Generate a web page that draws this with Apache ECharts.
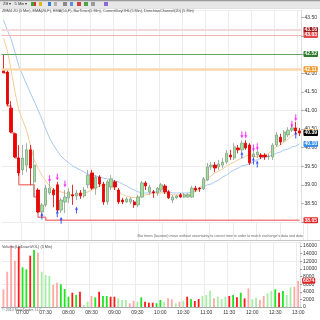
<!DOCTYPE html>
<html><head><meta charset="utf-8">
<script src="https://cdn.jsdelivr.net/npm/echarts@6/dist/echarts.min.js"></script>
<style>html,body{margin:0;padding:0;background:#fff}#c{width:320px;height:320px}</style>
</head><body><div id="c"></div>
<script>
const times = ['06:35','06:40','06:45','06:50','06:55','07:00','07:05','07:10','07:15','07:20','07:25','07:30','07:35','07:40','07:45','07:50','07:55','08:00','08:05','08:10','08:15','08:20','08:25','08:30','08:35','08:40','08:45','08:50','08:55','09:00','09:05','09:10','09:15','09:20','09:25','09:30','09:35','09:40','09:45','09:50','09:55','10:00','10:05','10:10','10:15','10:20','10:25','10:30','10:35','10:40','10:45','10:50','10:55','11:00','11:05','11:10','11:15','11:20','11:25','11:30','11:35','11:40','11:45','11:50','11:55','12:00','12:05','12:10','12:15','12:20','12:25','12:30','12:35','12:40','12:45','12:50','12:55','13:00'];
// [open, close, low, high]
const candles = [
[42.11,42.01,42.01,42.49],[42.03,41.17,41.12,42.09],[41.06,40.42,40.39,41.25],[40.37,39.75,39.72,40.39],
[39.72,39.32,39.24,40.07],[39.40,39.72,39.26,40.07],[39.53,39.94,39.34,40.12],[39.94,39.45,39.00,40.07],
[39.08,39.53,38.67,39.94],[38.86,38.27,38.24,38.91],[38.27,38.46,38.13,38.51],[38.46,38.91,38.40,39.00],
[38.78,38.91,38.73,39.08],[38.86,38.73,38.40,38.91],[39.00,38.32,38.27,39.08],[38.32,38.59,38.24,38.65],
[38.54,38.67,38.24,38.86],[38.65,38.81,38.51,38.91],[38.73,38.70,38.46,39.00],[38.70,38.78,38.59,38.86],
[38.78,38.70,38.62,38.86],[38.70,38.86,38.65,38.94],[39.00,39.26,38.91,39.40],[39.32,38.91,38.86,39.40],
[38.91,39.21,38.73,39.26],[39.21,39.02,38.94,39.26],[39.02,38.54,38.46,39.08],[38.54,39.08,38.46,39.13],
[38.94,39.16,38.86,39.26],[39.08,38.94,38.86,39.13],[38.86,38.54,38.48,38.91],[38.59,38.54,38.48,38.65],
[38.54,38.62,38.51,38.67],[38.54,38.62,38.48,38.67],[38.54,38.46,38.38,38.59],[38.46,38.67,38.40,38.73],
[38.67,39.05,38.65,39.10],[39.05,38.97,38.86,39.10],[38.81,38.94,38.73,39.00],[38.81,38.78,38.65,38.86],
[38.78,38.91,38.70,38.94],[38.86,39.00,38.81,39.05],[38.97,38.81,38.75,39.02],[38.81,38.65,38.62,38.86],
[38.59,38.67,38.51,38.73],[38.65,38.70,38.62,38.73],[38.73,38.67,38.65,38.78],[38.67,38.73,38.65,38.78],
[38.67,38.73,38.65,38.78],[38.67,38.91,38.65,38.97],[38.91,38.86,38.81,38.97],[38.91,38.89,38.81,38.94],
[38.89,39.16,38.86,39.21],[39.13,39.48,39.10,39.59],[39.48,39.53,39.40,39.61],[39.53,39.45,39.34,39.61],
[39.48,39.56,39.40,39.67],[39.53,39.61,39.45,39.72],[39.61,39.85,39.56,39.94],[39.80,39.75,39.67,39.94],
[39.72,40.02,39.67,40.12],[39.99,39.94,39.85,40.07],[39.94,40.12,39.88,40.20],[40.12,39.99,39.94,40.20],
[40.07,39.59,39.53,40.12],[39.75,39.83,39.67,39.94],[39.80,39.88,39.72,39.96],[39.80,39.75,39.69,39.85],
[39.80,39.75,39.67,39.85],[39.75,39.77,39.67,39.83],[39.75,40.07,39.67,40.12],[40.07,40.34,40.02,40.42],
[40.28,40.15,40.07,40.37],[40.20,40.42,40.15,40.47],[40.34,40.47,40.28,40.55],[40.47,40.53,40.42,40.63],
[40.53,40.45,40.37,40.69],[40.45,40.39,40.31,40.53]
];
const emaSlow = [43.43,43.16,42.92,42.57,42.19,41.95,41.71,41.47,41.25,41.01,40.77,40.50,40.26,40.07,39.91,39.77,39.67,39.59,39.51,39.45,39.40,39.34,39.29,39.26,39.24,39.21,39.18,39.16,39.13,39.10,39.08,39.02,38.97,38.91,38.86,38.81,38.78,38.78,38.78,38.81,38.81,38.81,38.81,38.81,38.78,38.78,38.78,38.78,38.78,38.81,38.83,38.89,38.94,39.00,39.02,39.08,39.13,39.21,39.26,39.34,39.40,39.45,39.51,39.53,39.56,39.61,39.67,39.72,39.75,39.77,39.80,39.85,39.88,39.94,39.96,40.02,40.04,40.10];
const emaFast = [42.95,42.62,42.09,41.50,41.01,40.74,40.47,40.07,39.67,39.45,39.26,39.10,38.97,38.89,38.83,38.81,38.78,38.75,38.73,38.73,38.75,38.78,38.81,38.86,38.91,38.97,39.00,39.00,38.94,38.89,38.81,38.73,38.70,38.67,38.65,38.67,38.70,38.73,38.75,38.78,38.78,38.78,38.78,38.75,38.73,38.73,38.73,38.73,38.73,38.75,38.83,38.91,39.02,39.16,39.24,39.32,39.37,39.42,39.51,39.56,39.61,39.67,39.72,39.77,39.80,39.77,39.75,39.77,39.80,39.85,39.94,40.02,40.07,40.15,40.23,40.31,40.37,40.42];
const lowestLow = [42.01,41.12,40.39,39.72,39.00,39.00,39.00,39.00,38.67,38.13,38.13,38.05,38.05,38.05,38.05,38.05,38.05,38.05,38.05,38.05,38.05,38.05,38.05,38.05,38.05,38.05,38.05,38.05,38.05,38.05,38.05,38.05,38.05,38.05,38.05,38.05,38.05,38.05,38.05,38.05,38.05,38.05,38.05,38.05,38.05,38.05,38.05,38.05,38.05,38.05,38.05,38.05,38.05,38.05,38.05,38.05,38.05,38.05,38.05,38.05,38.05,38.05,38.05,38.05,38.05,38.05,38.05,38.05,38.05,38.05,38.05,38.05,38.05,38.05,38.05,38.05,38.05,38.05];
const sellSignals = [[12,39.16],[14,39.21],[16,39.02],[62,40.34],[63,40.34],[65,39.99],[66,40.02],[75,40.63],[76,40.80]];
const buySignals = [[10,38.16],[14,38.22],[15,38.05],[19,38.32],[62,39.80],[65,39.64],[66,39.56],[76,40.34]];
const volumes = [4640,9260,16260,12140,15820,10410,9890,13460,14950,14240,
9260,8390,8130,5770,6370,5950,4720,2700,3750,3150,
4010,520,1390,2890,2540,4010,2890,2890,2700,2700,
2280,1840,1840,970,1650,1390,2540,1390,1130,1130,
970,1840,1390,2280,2020,970,1390,1650,2700,2100,
1570,2100,2890,3150,4280,2280,2700,2100,2700,2890,
3150,2540,3750,2280,4900,2020,2440,1840,2890,3590,
4200,4640,3750,4200,3150,5170,5320,6874];
const volumeKind = ['r','r','r','r','R','G','G','R','G','r',
'g','g','g','r','r','G','G','G','R','G',
'R','g','g','r','G','R','G','G','R','R',
'g','g','g','r','r','g','G','R','R','R',
'G','G','g','r','r','g','r','g','R','G',
'R','R','g','g','g','r','g','g','g','R',
'G','R','G','R','r','g','g','r','r','g',
'g','G','R','G','g','g','r','r'];
const levelLines = [43.16, 43.03, 42.52, 42.11];
const lastPrice = 40.39;

const levelStyles = [
  {line:'#f1d9d9', w:2, bg:'#9b1b1b'},
  {line:'#f6b3b3', w:1.2, bg:'#e34b4b'},
  {line:'#5fa55f', w:1.2, bg:'#2f7a2f'},
  {line:'#fcd9ac', w:2.5, bg:'#ef9a2a'}
];
const volColors = {R:'#ff1a1a', r:'#ffa8a8', G:'#1fe41f', g:'#a6eda6'};
const FONT = 'Liberation Sans';
const isHalfHour = (i, v) => /:(00|30)$/.test(v);
function boxLabel(bg, txt){
  return {show:true, position:'end', distance:2, formatter: txt, backgroundColor:bg, color:'#fff',
    fontSize:5, fontWeight:'bold', fontFamily:FONT, padding:[1,1,0,1], borderRadius:1};
}
const mlData = levelLines.map((v,k)=>({yAxis:v, lineStyle:{color:levelStyles[k].line, width:levelStyles[k].w, type:'solid'},
  label: boxLabel(levelStyles[k].bg, v.toFixed(2))}));
mlData.push({yAxis: emaFast[emaFast.length-1], lineStyle:{color:'transparent', width:0}, label: boxLabel('#f0a040', emaFast[emaFast.length-1].toFixed(2))});
mlData.push({yAxis: lastPrice, lineStyle:{color:'transparent', width:0}, label: boxLabel('#000', lastPrice.toFixed(2))});
mlData.push({yAxis: emaSlow[emaSlow.length-1], lineStyle:{color:'transparent', width:0}, label: boxLabel('#3b8fe6', emaSlow[emaSlow.length-1].toFixed(2))});
mlData.push({yAxis: lowestLow[lowestLow.length-1], lineStyle:{color:'transparent', width:0}, label: boxLabel('#e52424', lowestLow[lowestLow.length-1].toFixed(2))});

const L = 1.5, R = 12.7;
const splitX = {show:true, interval:(i,v)=>isHalfHour(i,v), lineStyle:{color:'#ececec', width:1}};
const option = {
  animation:false,
  backgroundColor:'#fff',
  textStyle:{fontFamily:FONT},
  grid:[
    {left:L, right:R, top:10, bottom:98},
    {left:L, right:R, top:222, bottom:80},
    {left:L, right:R, top:242.2, bottom:13}
  ],
  xAxis:[
    {type:'category', gridIndex:0, data:times, axisLabel:{show:false}, axisTick:{show:false}, axisLine:{show:false}, splitLine:splitX},
    {type:'category', gridIndex:1, data:times, axisLabel:{show:false}, axisTick:{show:false}, axisLine:{show:false}, splitLine:splitX},
    {type:'category', gridIndex:2, data:times,
      axisLabel:{interval:isHalfHour, fontSize:5, color:'#333', margin:3, fontFamily:FONT},
      axisTick:{interval:isHalfHour, length:2, lineStyle:{color:'#999'}},
      axisLine:{lineStyle:{color:'#aaa', width:1}}, splitLine:splitX}
  ],
  yAxis:[
    {type:'value', gridIndex:0, position:'right', min:38, max:43.7, interval:0.5, scale:true,
      axisLabel:{fontSize:5, color:'#333', margin:3, showMaxLabel:false, formatter:v=>v.toFixed(2), fontFamily:FONT},
      axisTick:{show:true, length:2, lineStyle:{color:'#999'}}, axisLine:{show:true, lineStyle:{color:'#ddd'}}, splitLine:{show:false}},
    {type:'value', gridIndex:0, position:'right', min:38, max:43.7, interval:1.5, show:true,
      axisLabel:{show:false}, axisTick:{show:false}, axisLine:{show:false}, splitLine:{show:true, lineStyle:{color:'#ececec'}}},
    {type:'value', gridIndex:1, show:false},
    {type:'value', gridIndex:2, position:'right', min:0, max:17000, interval:2000,
      axisLabel:{fontSize:5, color:'#333', margin:3, showMaxLabel:false, formatter:v=>String(v), fontFamily:FONT},
      axisTick:{show:true, length:2, lineStyle:{color:'#999'}}, axisLine:{show:true, lineStyle:{color:'#ddd'}}, splitLine:{show:false}},
    {type:'value', gridIndex:2, position:'right', min:0, max:17000, interval:6000,
      axisLabel:{show:false}, axisTick:{show:false}, axisLine:{show:false}, splitLine:{show:true, lineStyle:{color:'#ececec'}}}
  ],
  series:[
    {type:'line', xAxisIndex:0, yAxisIndex:0, data:emaSlow, symbol:'none', lineStyle:{color:'#a9c9f2', width:1}, z:2},
    {type:'line', xAxisIndex:0, yAxisIndex:0, data:emaFast, symbol:'none', lineStyle:{color:'#fbcb96', width:1}, z:2},
    {type:'line', xAxisIndex:0, yAxisIndex:0, data:lowestLow, step:'end', symbol:'none', lineStyle:{color:'#f28484', width:1.5}, z:3},
    {type:'candlestick', xAxisIndex:0, yAxisIndex:0, data:candles, barWidth:2.8, z:4,
      itemStyle:{color:'#97e497', color0:'#f40000', borderColor:'#8a9f8a', borderColor0:'#d80000', borderWidth:0.8},
      markLine:{silent:true, symbol:'none', animation:false, data:mlData}},
    {type:'scatter', xAxisIndex:0, yAxisIndex:0, data:sellSignals, clip:false, z:5,
      symbol:'path://M2,0 L4,0 L4,5 L6,5 L3,9 L0,5 L2,5 Z', symbolSize:[3,7], itemStyle:{color:'#ff00ff'}},
    {type:'scatter', xAxisIndex:0, yAxisIndex:0, data:buySignals, clip:false, z:5,
      symbol:'path://M3,0 L6,4 L4,4 L4,9 L2,9 L2,4 L0,4 Z', symbolSize:[3,7], itemStyle:{color:'#1030ff'}},
    {type:'bar', xAxisIndex:2, yAxisIndex:3, data:volumes, barWidth:1.8,
      itemStyle:{color:p=>volColors[volumeKind[p.dataIndex]]},
      markLine:{silent:true, symbol:'none', data:[{yAxis:volumes[volumes.length-1], lineStyle:{color:'transparent', width:0},
        label:boxLabel('#e52424', String(volumes[volumes.length-1]))}]}}
  ],
  graphic:[
    {type:'rect', shape:{x:0,y:0,width:320,height:8}, style:{fill:'#e7e7e7'}, z:10},
    {type:'rect', shape:{x:0,y:0,width:320,height:1.2}, style:{fill:'#9a9a9a'}, z:10},
    {type:'rect', shape:{x:0,y:8,width:320,height:0.6}, style:{fill:'#c4c4c4'}, z:10},
    {type:'text', x:3, y:2.3, style:{text:'ZB ▾   5 Min ▾', fontSize:4, fill:'#333', fontFamily:FONT}, z:11},
    {type:'rect', shape:{x:31,y:2,width:3,height:4}, style:{fill:'#3aa63a'}, z:11},
    {type:'rect', shape:{x:34,y:2,width:2,height:4}, style:{fill:'#d33'}, z:11},
    {type:'rect', shape:{x:39,y:2,width:3,height:4}, style:{fill:'#e6b422'}, z:11},
    {type:'rect', shape:{x:48,y:2,width:3,height:4}, style:{fill:'#3a7ad9'}, z:11},
    {type:'rect', shape:{x:54,y:2,width:3,height:4}, style:{fill:'#b0b0b0'}, z:11},
    {type:'rect', shape:{x:63,y:2,width:4,height:4}, style:{fill:'#8a8a8a'}, z:11},
    {type:'rect', shape:{x:70,y:2,width:3,height:4}, style:{fill:'#5b8fd9'}, z:11},
    {type:'rect', shape:{x:77,y:2,width:4,height:4}, style:{fill:'#d04040'}, z:11},
    {type:'rect', shape:{x:84,y:2,width:4,height:4}, style:{fill:'#4aa84a'}, z:11},
    {type:'rect', shape:{x:91,y:2,width:4,height:4}, style:{fill:'#9a9a9a'}, z:11},
    {type:'rect', shape:{x:104,y:2,width:4,height:4}, style:{fill:'#8a6ad0'}, z:11},
    {type:'text', x:2, y:9.2, style:{text:'ZBM4.Z0 (5 Min), EMA(26,F), EMA(50,F), BarTimer(5 Min), CurrentDayOHL(5 Min), DonchianChannel(20) (5 Min)', fontSize:3.8, fill:'#444', fontFamily:FONT}, z:11},
    {type:'text', right:17, y:234, style:{text:'Bar times (location) move without uncertainty to correct time in order to match exchange\'s data and date', fontSize:3.6, fill:'#666', fontFamily:FONT}, z:11},
    {type:'rect', shape:{x:0,y:240.3,width:320,height:0.8}, style:{fill:'#b5b5b5'}, z:11},
    {type:'text', x:2, y:244.5, style:{text:'Volume(UpDownVOL) (5 Min)', fontSize:3.8, fill:'#444', fontFamily:FONT}, z:11},
    {type:'text', x:2, y:307.5, style:{text:'© 2010 NinjaTrader, LLC', fontSize:3.6, fill:'#666', fontFamily:FONT}, z:11}
  ]
};
const chart = echarts.init(document.getElementById('c'), null, {renderer:'canvas'});
chart.setOption(option);
</script></body></html>
